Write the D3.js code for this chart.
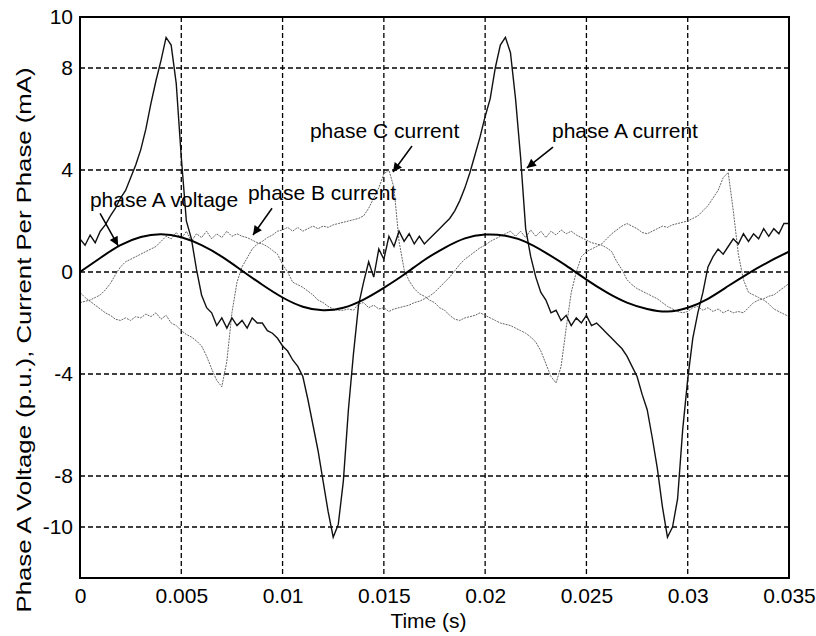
<!DOCTYPE html>
<html>
<head>
<meta charset="utf-8">
<script src="https://cdn.jsdelivr.net/npm/d3@7"></script>
<style>
  body { margin: 0; background: #fff; }
  text { font-family: Arial, "Liberation Sans", sans-serif; fill: #000; }
</style>
</head>
<body>
<svg id="chart" width="816" height="636"></svg>
<script>
// Sampling interval (s) of the recorded phase currents
const currentStep = 0.00025;
// Phase currents (mA), one value per sample
const phaseACurrent = [
  1.3, 1.05, 1.45, 1.15, 1.6, 1.85, 2.2, 2.5, 2.9, 3.2, 3.7, 4.2, 4.8, 5.6, 6.6, 7.5, 8.3, 9.2, 8.9, 7.4,
  4.5, 2.0, 1.3, 0.1, -0.9, -1.4, -1.6, -2.1, -1.8, -2.2, -1.8, -2.1, -1.9, -2.2, -1.8, -2.0, -2.0, -2.3, -2.4, -2.6,
  -2.9, -3.1, -3.45, -3.7, -4.1, -5.0, -6.0, -7.0, -8.2, -9.4, -10.4, -9.9, -8.2, -5.4, -3.2, -1.3, -0.4, 0.4, -0.2, 0.9,
  0.5, 1.4, 1.0, 1.6, 1.2, 1.5, 1.1, 1.4, 1.1, 1.3, 1.5, 1.7, 1.9, 2.1, 2.4, 2.8, 3.3, 3.9, 4.6, 5.3,
  6.1, 6.8, 8.0, 8.9, 9.2, 8.6, 6.8, 4.5, 1.7, 0.6, -0.2, -0.8, -1.1, -1.6, -1.5, -1.9, -1.7, -2.1, -1.8, -2.0,
  -1.7, -2.1, -2.0, -2.2, -2.4, -2.6, -2.8, -3.0, -3.3, -3.7, -4.1, -4.8, -5.4, -6.5, -7.7, -9.2, -10.4, -10.0, -8.9, -6.2,
  -4.2, -2.6, -1.6, -0.8, 0.2, 0.6, 0.9, 0.7, 1.0, 1.3, 1.1, 1.5, 1.2, 1.5, 1.3, 1.7, 1.4, 1.7, 1.5, 1.9,
  1.9
];
const phaseBCurrent = [
  -1.2, -1.15, -1.1, -1.0, -0.9, -0.7, -0.45, -0.1, 0.2, 0.4, 0.5, 0.6, 0.7, 0.8, 0.9, 1.0, 1.2, 1.4, 1.3, 1.55,
  1.3, 1.6, 1.2, 1.5, 1.35, 1.6, 1.3, 1.5, 1.35, 1.6, 1.4, 1.5, 1.4, 1.35, 1.25, 1.15, 1.1, 1.0, 0.85, 0.7,
  0.3, 0.0, -0.4, -0.5, -0.6, -0.75, -0.9, -1.1, -1.2, -1.35, -1.45, -1.5, -1.5, -1.45, -1.5, -1.25, -1.2, -1.4, -1.3, -1.45,
  -1.4, -1.55, -1.45, -1.4, -1.35, -1.3, -1.2, -1.15, -1.05, -0.95, -0.8, -0.6, -0.4, -0.2, 0.05, 0.3, 0.5, 0.65, 0.8, 0.95,
  1.05, 1.2, 1.3, 1.4, 1.5, 1.6, 1.4, 1.6, 1.35, 1.65, 1.4, 1.6, 1.35, 1.6, 1.45, 1.65, 1.5, 1.6, 1.45, 1.35,
  1.25, 1.15, 1.1, 1.05, 0.95, 0.8, 0.4, 0.1, -0.3, -0.5, -0.65, -0.75, -0.85, -0.95, -1.05, -1.2, -1.35, -1.45, -1.55, -1.6,
  -1.55, -1.4, -1.35, -1.5, -1.4, -1.55, -1.45, -1.6, -1.5, -1.6, -1.55, -1.6, -1.4, -1.2, -1.1, -1.05, -0.95, -0.9, -0.75, -0.6,
  -0.45
];
const phaseCCurrent = [
  -0.8, -1.0, -1.15, -1.3, -1.45, -1.6, -1.7, -1.85, -1.9, -1.8, -1.9, -1.75, -1.8, -1.65, -1.75, -1.6, -1.85, -1.7, -2.0, -2.1,
  -2.3, -2.45, -2.55, -2.7, -2.9, -3.3, -3.8, -4.25, -4.5, -3.5, -1.6, -0.4, 0.2, 0.55, 0.9, 1.1, 1.2, 1.35, 1.45, 1.6,
  1.65, 1.75, 1.6, 1.75, 1.6, 1.7, 1.8, 1.7, 1.8, 1.75, 1.85, 1.9, 1.95, 2.0, 2.05, 2.1, 2.2, 2.5, 2.9, 3.3,
  3.85, 4.0, 3.3, 1.2, 0.1, -0.35, -0.65, -0.85, -0.95, -1.1, -1.2, -1.4, -1.5, -1.7, -1.85, -1.9, -1.8, -1.75, -1.7, -1.6,
  -1.7, -1.8, -1.9, -2.0, -2.05, -2.1, -2.2, -2.3, -2.4, -2.55, -2.75, -3.1, -3.6, -4.1, -4.35, -3.7, -2.2, -0.8, 0.0, 0.6,
  0.8, 0.9, 1.0, 1.1, 1.3, 1.5, 1.65, 1.8, 1.9, 1.8, 1.7, 1.55, 1.5, 1.6, 1.7, 1.8, 1.75, 1.85, 1.9, 1.95,
  2.0, 2.1, 2.2, 2.4, 2.6, 2.9, 3.2, 3.7, 3.9, 2.4, 0.7, -0.3, -0.8, -0.9, -1.0, -1.1, -1.25, -1.45, -1.55, -1.65,
  -1.75
];
// Phase A voltage (p.u.), sampled every millisecond
const voltageStep = 0.001;
const phaseAVoltage = [
  0, 0.55, 1.05, 1.37, 1.48, 1.36, 1.05, 0.6, 0.05, -0.5, -1.0, -1.36, -1.5, -1.4, -1.08, -0.62, -0.1, 0.47,
  0.95, 1.32, 1.47, 1.42, 1.18, 0.75, 0.25, -0.3, -0.8, -1.2, -1.45, -1.55, -1.4, -1.05, -0.55, -0.05, 0.4, 0.8
];

// Axis ticks
const xTicks = [0, 0.005, 0.01, 0.015, 0.02, 0.025, 0.03, 0.035];
const xTickLabels = ["0", "0.005", "0.01", "0.015", "0.02", "0.025", "0.03", "0.035"];
const yTicks = [10, 8, 4, 0, -4, -8, -10];
const yTickLabels = ["10", "8", "4", "0", "-4", "-8", "-10"];

// Callout labels: text anchor and arrow (tail -> tip) in data units
const calloutText = ["phase A voltage", "phase B current", "phase C current", "phase A current"];
const calloutTextAt = [[0.00049, 2.55], [0.00829, 2.82], [0.01135, 5.25], [0.0233, 5.25]];
const calloutTail = [[0.00099, 2.3], [0.00948, 2.5], [0.01639, 4.94], [0.02335, 4.9]];
const calloutTip = [[0.00188, 1.03], [0.00854, 1.45], [0.01545, 3.92], [0.02206, 4.08]];

(function draw() {
  const svg = d3.select("#chart");
  const plotLeft = 80, plotRight = 789, plotTop = 17, plotBottom = 578;

  const x = d3.scaleLinear().domain([0, 0.035]).range([plotLeft, plotRight]);
  const y = d3.scaleLinear().domain([-12, 10]).range([plotBottom, plotTop]);

  // Dashed grid
  const grid = svg.append("g").attr("stroke", "#000").attr("stroke-width", 1.3).attr("stroke-dasharray", "5,3");
  grid.selectAll("line.v").data(xTicks.slice(1, -1)).join("line").attr("class", "v")
    .attr("x1", d => x(d)).attr("x2", d => x(d)).attr("y1", plotTop).attr("y2", plotBottom);
  grid.selectAll("line.h").data(yTicks.slice(1)).join("line").attr("class", "h")
    .attr("y1", d => y(d)).attr("y2", d => y(d)).attr("x1", plotLeft).attr("x2", plotRight);

  // Axes (labels only; frame drawn separately)
  const xAxis = svg.append("g").attr("transform", `translate(0,${plotBottom})`)
    .call(d3.axisBottom(x).tickValues(xTicks).tickFormat((d, i) => xTickLabels[i]).tickSize(0).tickPadding(10));
  const yAxis = svg.append("g").attr("transform", `translate(${plotLeft},0)`)
    .call(d3.axisLeft(y).tickValues(yTicks).tickFormat((d, i) => yTickLabels[i]).tickSize(0).tickPadding(7));
  [xAxis, yAxis].forEach(g => {
    g.select(".domain").remove();
    g.selectAll("text").attr("font-size", 21).attr("font-family", "Arial, 'Liberation Sans', sans-serif").attr("fill", "#000");
  });

  svg.append("clipPath").attr("id", "plot").append("rect")
    .attr("x", plotLeft).attr("y", plotTop).attr("width", plotRight - plotLeft).attr("height", plotBottom - plotTop);
  const plot = svg.append("g").attr("clip-path", "url(#plot)");

  const currentLine = d3.line().x((d, i) => x(i * currentStep)).y(d => y(d));
  const voltageLine = d3.line().x((d, i) => x(i * voltageStep)).y(d => y(d)).curve(d3.curveNatural);

  plot.append("path").datum(phaseBCurrent).attr("d", currentLine)
    .attr("fill", "none").attr("stroke", "#666").attr("stroke-width", 1).attr("stroke-dasharray", "2,1");
  plot.append("path").datum(phaseCCurrent).attr("d", currentLine)
    .attr("fill", "none").attr("stroke", "#666").attr("stroke-width", 1).attr("stroke-dasharray", "2,1");
  plot.append("path").datum(phaseACurrent).attr("d", currentLine)
    .attr("fill", "none").attr("stroke", "#111").attr("stroke-width", 1.4);
  plot.append("path").datum(phaseAVoltage).attr("d", voltageLine)
    .attr("fill", "none").attr("stroke", "#000").attr("stroke-width", 2);

  // Frame
  svg.append("rect").attr("x", plotLeft).attr("y", plotTop)
    .attr("width", plotRight - plotLeft).attr("height", plotBottom - plotTop)
    .attr("fill", "none").attr("stroke", "#000").attr("stroke-width", 2);

  // Callouts
  svg.append("defs").append("marker").attr("id", "head")
    .attr("viewBox", "0 0 10 10").attr("refX", 10).attr("refY", 5)
    .attr("markerWidth", 12).attr("markerHeight", 9).attr("markerUnits", "userSpaceOnUse")
    .attr("orient", "auto")
    .append("path").attr("d", "M0,0 L10,5 L0,10 Z").attr("fill", "#000");

  calloutText.forEach((label, i) => {
    svg.append("text").attr("x", x(calloutTextAt[i][0])).attr("y", y(calloutTextAt[i][1]))
      .attr("font-size", 21).text(label);
    svg.append("line")
      .attr("x1", x(calloutTail[i][0])).attr("y1", y(calloutTail[i][1]))
      .attr("x2", x(calloutTip[i][0])).attr("y2", y(calloutTip[i][1]))
      .attr("stroke", "#000").attr("stroke-width", 1.5).attr("marker-end", "url(#head)");
  });

  // Axis titles
  svg.append("text").attr("x", (plotLeft + plotRight) / 2 - 6).attr("y", 628)
    .attr("text-anchor", "middle").attr("font-size", 21).text("Time (s)");
  svg.append("text").attr("transform", "translate(31,340) rotate(-90)")
    .attr("text-anchor", "middle").attr("font-size", 21)
    .attr("textLength", 545).attr("lengthAdjust", "spacingAndGlyphs")
    .text("Phase A Voltage (p.u.), Current Per Phase (mA)");
})();
</script>
</body>
</html>
